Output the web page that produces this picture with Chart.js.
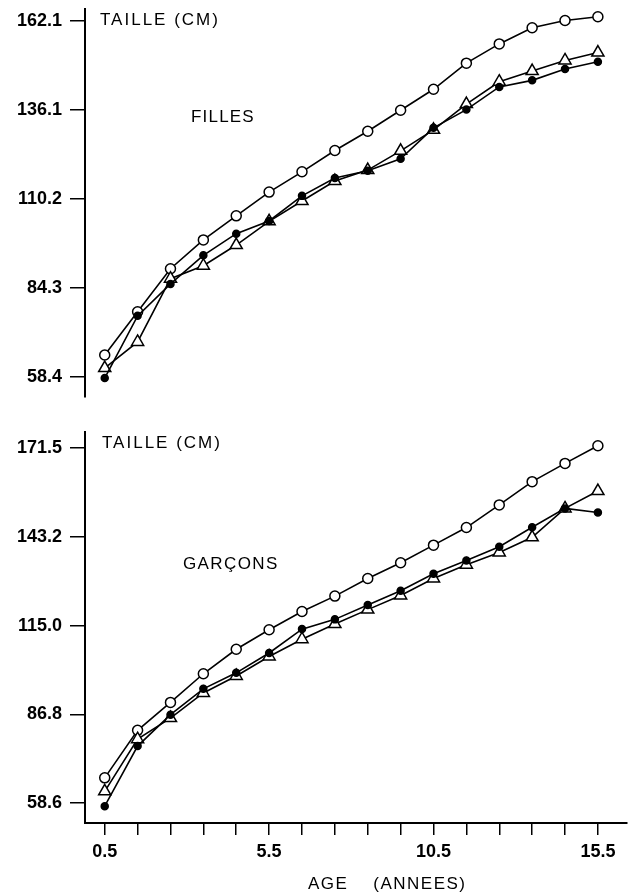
<!DOCTYPE html>
<html lang="fr">
<head>
<meta charset="utf-8">
<title>Taille selon l'âge</title>
<script src="https://cdn.jsdelivr.net/npm/chart.js@4"></script>
<style>
  html, body { margin: 0; padding: 0; background: #fff; }
  body { width: 635px; height: 893px; position: relative; overflow: hidden; }
  .panel { position: absolute; left: 0; width: 635px; }
  #panelFilles { top: 0; height: 410px; }
  #panelGarcons { top: 410px; height: 483px; }
</style>
</head>
<body>
<div class="panel" id="panelFilles"><canvas id="chartFilles"></canvas></div>
<div class="panel" id="panelGarcons"><canvas id="chartGarcons"></canvas></div>
<script>
// ===== Données =====
const ages = [0.5, 1.5, 2.5, 3.5, 4.5, 5.5, 6.5, 7.5, 8.5, 9.5, 10.5, 11.5, 12.5, 13.5, 14.5, 15.5];
const ageLabels = [0.5, 5.5, 10.5, 15.5];

const fillesTicks = [58.4, 84.3, 110.2, 136.1, 162.1];
const fillesCercles = [64.8, 77.4, 89.9, 98.3, 105.3, 112.2, 118.1, 124.3, 129.9, 136.0, 142.1, 149.7, 155.3, 160.0, 162.1, 163.2];
const fillesTriangles = [61.0, 68.6, 87.0, 90.8, 96.8, 103.7, 109.6, 115.4, 118.6, 124.2, 130.3, 137.8, 144.3, 147.4, 150.5, 152.8];
const fillesPoints = [58.1, 76.2, 85.5, 93.8, 100.1, 103.8, 111.1, 116.3, 118.4, 121.9, 130.9, 136.2, 142.8, 144.7, 148.0, 150.1];

const garconsTicks = [58.6, 86.8, 115.0, 143.2, 171.5];
const garconsCercles = [66.6, 81.7, 90.6, 99.7, 107.5, 113.7, 119.5, 124.4, 130.0, 135.0, 140.6, 146.2, 153.4, 160.8, 166.6, 172.2];
const garconsTriangles = [62.3, 78.9, 85.6, 93.6, 99.0, 105.2, 110.7, 115.5, 120.1, 124.6, 130.0, 134.4, 138.3, 143.1, 152.3, 157.8];
const garconsPoints = [57.6, 76.7, 86.7, 94.9, 100.0, 106.3, 113.9, 117.0, 121.6, 126.1, 131.5, 135.7, 140.1, 146.3, 152.3, 151.0];

document.addEventListener("DOMContentLoaded", () => {
  const FONT = '"Liberation Sans", Arial, Helvetica, sans-serif';
  const tickFont = { family: FONT, size: 18, weight: "bold" };
  const texteFont = "17px " + FONT;

  // ===== Textes libres (titres dans le graphique) =====
  const textesPlugin = {
    id: "textes",
    afterDraw(chart, args, opts) {
      const { ctx, chartArea } = chart;
      ctx.save();
      ctx.fillStyle = "#000";
      ctx.textBaseline = "middle";
      ctx.textAlign = "left";
      (opts.items || []).forEach((t) => {
        ctx.font = texteFont;
        ctx.letterSpacing = t.spacing || "0px";
        const y = t.fromBottom ? chartArea.bottom + t.dy : chartArea.top + t.dy;
        ctx.fillText(t.text, chartArea.left + t.dx, y);
      });
      ctx.restore();
    }
  };

  const toPoints = (values) => values.map((v, i) => ({ x: ages[i], y: v }));

  function makeDatasets(cercles, triangles, points) {
    const base = {
      borderColor: "#000",
      borderWidth: 1.6,
      pointBorderColor: "#000",
      pointBorderWidth: 1.5,
      tension: 0,
      fill: false
    };
    return [
      { ...base, label: "cercles", data: toPoints(cercles), pointStyle: "circle", pointRadius: 5, pointBackgroundColor: "#fff", order: 2 },
      { ...base, label: "triangles", data: toPoints(triangles), pointStyle: "triangle", pointRadius: 7, pointBackgroundColor: "#fff", order: 1 },
      { ...base, label: "points", data: toPoints(points), pointStyle: "circle", pointRadius: 3.5, pointBackgroundColor: "#000", order: 0 }
    ];
  }

  function makeChart(canvasId, datasets, yTicks, yMin, yMax, showX, padding, textes) {
    return new Chart(document.getElementById(canvasId), {
      type: "line",
      data: { datasets },
      options: {
        responsive: true,
        maintainAspectRatio: false,
        animation: false,
        layout: { padding },
        plugins: {
          legend: { display: false },
          tooltip: { enabled: false },
          textes: { items: textes }
        },
        scales: {
          x: {
            type: "linear",
            min: -0.1,
            max: 16.37,
            display: showX,
            afterBuildTicks: (s) => { s.ticks = ages.map((v) => ({ value: v })); },
            afterFit: (s) => { s.height = showX ? 70 : 0; s.paddingLeft = 0; s.paddingRight = 0; },
            ticks: {
              autoSkip: false,
              maxRotation: 0,
              padding: 6,
              color: "#000",
              font: tickFont,
              callback: (v) => (ageLabels.includes(v) ? v.toFixed(1) : "")
            },
            grid: { drawOnChartArea: false, tickLength: 12, color: "#000", lineWidth: 1.5 },
            border: { display: true, color: "#000", width: 2 }
          },
          y: {
            min: yMin,
            max: yMax,
            afterBuildTicks: (s) => { s.ticks = yTicks.map((v) => ({ value: v })); },
            afterFit: (s) => { s.width = 85; s.paddingTop = 0; s.paddingBottom = 0; },
            ticks: {
              padding: 8,
              color: "#000",
              font: tickFont,
              callback: (v) => v.toFixed(1)
            },
            grid: { drawOnChartArea: false, tickLength: 15, color: "#000", lineWidth: 1.5 },
            border: { display: true, color: "#000", width: 2 }
          }
        }
      },
      plugins: [textesPlugin]
    });
  }

  // ===== Filles =====
  makeChart(
    "chartFilles",
    makeDatasets(fillesCercles, fillesTriangles, fillesPoints),
    fillesTicks, 52.6, 165.6, false,
    { top: 8, right: 3, bottom: 13, left: 0 },
    [
      { text: "TAILLE (CM)", dx: 15, dy: 12, spacing: "2px" },
      { text: "FILLES", dx: 106, dy: 109, spacing: "1.2px" }
    ]
  );

  // ===== Garçons =====
  makeChart(
    "chartGarcons",
    makeDatasets(garconsCercles, garconsTriangles, garconsPoints),
    garconsTicks, 52.24, 176.59, true,
    { top: 22, right: 3, bottom: 0, left: 0 },
    [
      { text: "TAILLE (CM)", dx: 17, dy: 11, spacing: "2px" },
      { text: "GARÇONS", dx: 98, dy: 132, spacing: "1.4px" },
      { text: "AGE    (ANNEES)", dx: 223, dy: 61, fromBottom: true, spacing: "1.5px" }
    ]
  );
});
</script>
</body>
</html>
